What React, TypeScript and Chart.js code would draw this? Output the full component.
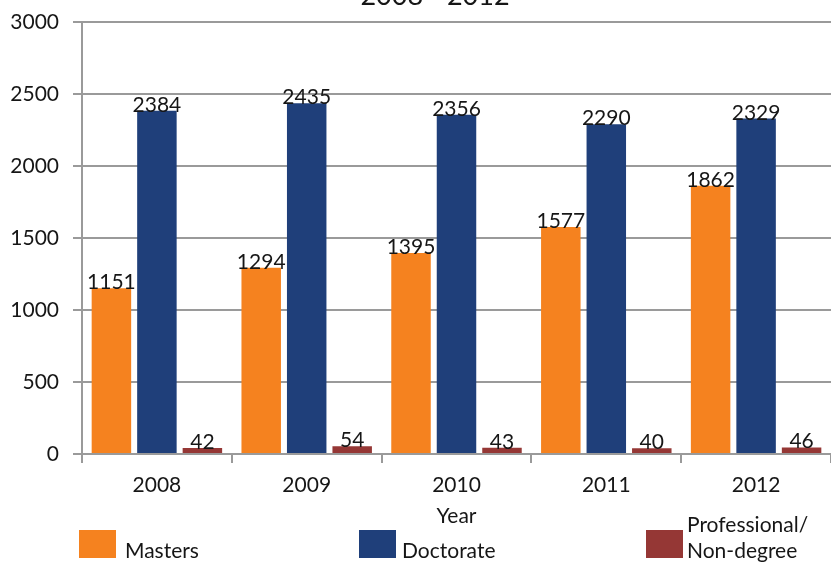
import React, { useEffect, useRef } from "react";
import { Chart, registerables } from "chart.js";

Chart.register(...registerables);

// ---- data ----
const chartTitle = "2008 - 2012";
const xAxisTitle = "Year";
const years = ["2008", "2009", "2010", "2011", "2012"];
const masters = [1151, 1294, 1395, 1577, 1862];
const doctorate = [2384, 2435, 2356, 2290, 2329];
const professional = [42, 54, 43, 40, 46];
const seriesNames = ["Masters", "Doctorate", "Professional/\nNon-degree"];
const seriesColors = ["#F5821F", "#1F3F7A", "#953735"];
const yMin = 0;
const yMax = 3000;
const yStep = 500;

const FONT = "Lato, 'Open Sans', 'DejaVu Sans', sans-serif";
const TEXT = "#161616";
const GRID = "#9a9a9a";

const titlePlugin = {
  id: "topTitle",
  afterDraw(chart: any) {
    const ctx = chart.ctx;
    ctx.save();
    ctx.font = `27px ${FONT}`;
    ctx.fillStyle = TEXT;
    ctx.textAlign = "center";
    ctx.textBaseline = "alphabetic";
    ctx.fillText(chartTitle, 435, 5);
    ctx.restore();
  },
};

const valueLabelPlugin = {
  id: "valueLabels",
  afterDatasetsDraw(chart: any) {
    const ctx = chart.ctx;
    ctx.save();
    ctx.font = `21px ${FONT}`;
    ctx.fillStyle = TEXT;
    ctx.textAlign = "center";
    ctx.textBaseline = "alphabetic";
    chart.data.datasets.forEach((ds: any, di: number) => {
      const meta = chart.getDatasetMeta(di);
      meta.data.forEach((bar: any, i: number) => {
        ctx.fillText(String(ds.data[i]), bar.x, bar.y + 1);
      });
    });
    ctx.restore();
  },
};

const legendLayout = [
  { box: 79, text: 125, top: 537 },
  { box: 359, text: 402, top: 537 },
  { box: 646, text: 687, top: 511 },
];

export default function App() {
  const ref = useRef<HTMLCanvasElement>(null);

  useEffect(() => {
    const seriesData = [masters, doctorate, professional];
    const chart = new Chart(ref.current as HTMLCanvasElement, {
      type: "bar",
      data: {
        labels: years,
        datasets: seriesData.map((d, i) => ({
          label: seriesNames[i],
          data: d,
          backgroundColor: seriesColors[i],
          borderWidth: 0,
          categoryPercentage: 0.911,
          barPercentage: 0.868,
        })),
      },
      options: {
        responsive: false,
        animation: false,
        devicePixelRatio: 1,
        layout: { padding: { top: 22, left: 0, right: 0, bottom: 0 } },
        plugins: {
          legend: { display: false },
          tooltip: { enabled: false },
          title: { display: false },
        },
        scales: {
          x: {
            grid: {
              display: true,
              drawOnChartArea: false,
              drawTicks: true,
              tickLength: 9,
              color: GRID,
              lineWidth: 2,
              offset: true,
            },
            border: { display: true, color: GRID, width: 2 },
            ticks: {
              padding: 10,
              color: TEXT,
              font: { family: FONT, size: 21 },
            },
            title: {
              display: true,
              text: xAxisTitle,
              color: TEXT,
              font: { family: FONT, size: 21 },
              padding: { top: 0, bottom: 34 },
            },
            afterFit: (s: any) => {
              s.height = 109;
              s.paddingLeft = 0;
              s.paddingRight = 0;
            },
          },
          y: {
            min: yMin,
            max: yMax,
            ticks: {
              stepSize: yStep,
              padding: 14,
              color: TEXT,
              font: { family: FONT, size: 21 },
              callback: (v: any) => String(v),
            },
            grid: { color: GRID, lineWidth: 2, tickLength: 9, drawTicks: true },
            border: { display: true, color: GRID, width: 2 },
            afterFit: (s: any) => {
              s.width = 82;
              s.paddingTop = 0;
              s.paddingBottom = 0;
            },
          },
        },
      },
      plugins: [titlePlugin, valueLabelPlugin],
    } as any);
    return () => chart.destroy();
  }, []);

  return (
    <div
      style={{
        position: "absolute",
        left: 0,
        top: 0,
        width: 831,
        height: 563,
        background: "#fff",
        overflow: "hidden",
      }}
    >
      <canvas
        ref={ref}
        width={831}
        height={563}
        style={{ display: "block", width: 831, height: 563 }}
      />
      {seriesNames.map((name, i) => (
        <React.Fragment key={name}>
          <div
            style={{
              position: "absolute",
              left: legendLayout[i].box,
              top: 530,
              width: 37,
              height: 28,
              background: seriesColors[i],
            }}
          />
          <div
            style={{
              position: "absolute",
              left: legendLayout[i].text,
              top: legendLayout[i].top,
              fontFamily: FONT,
              fontSize: 21,
              lineHeight: "26px",
              color: TEXT,
              whiteSpace: "pre",
            }}
          >
            {name}
          </div>
        </React.Fragment>
      ))}
    </div>
  );
}
